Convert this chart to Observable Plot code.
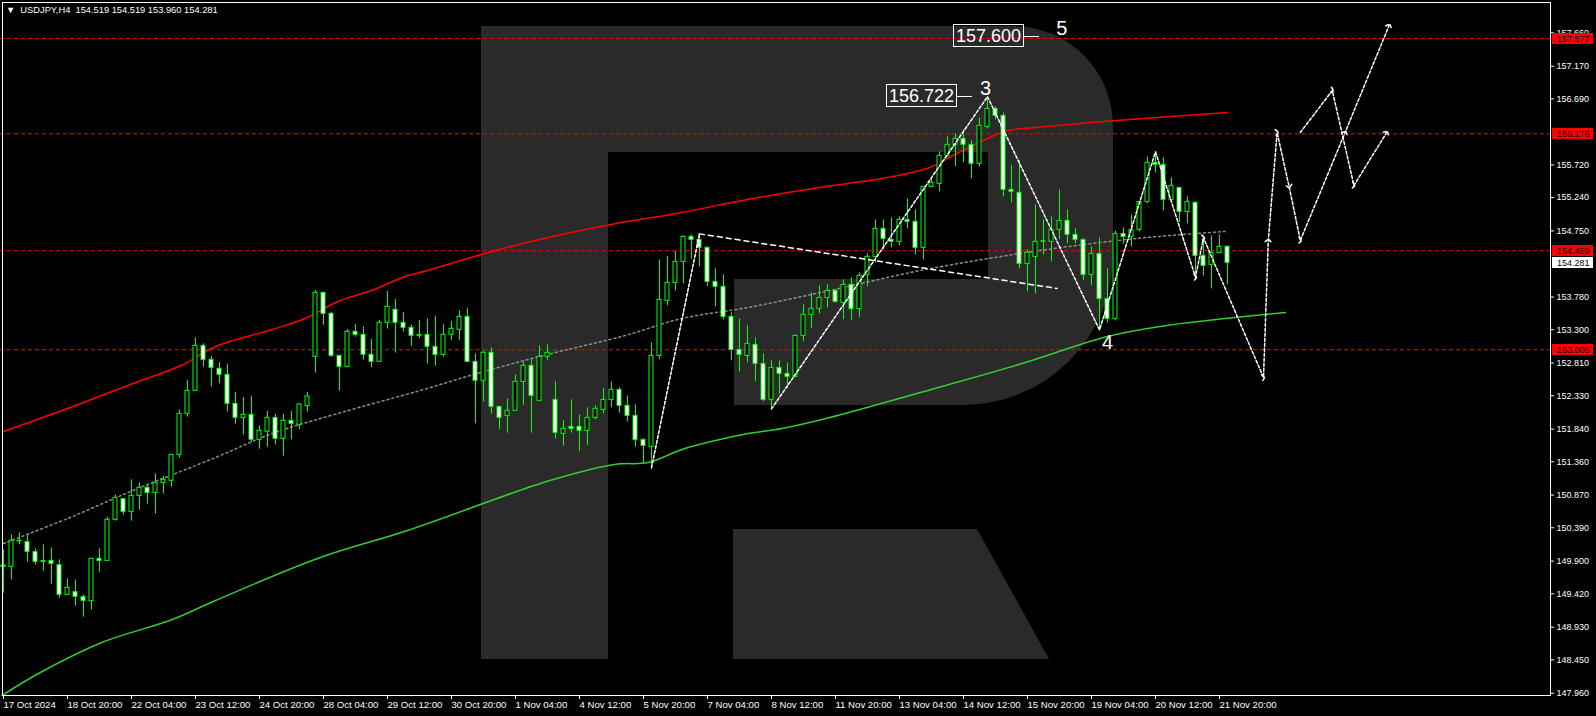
<!DOCTYPE html>
<html><head><meta charset="utf-8">
<script src="https://cdn.jsdelivr.net/npm/d3@7"></script>
<script src="https://cdn.jsdelivr.net/npm/@observablehq/plot@0.6"></script>
<style>
html,body{margin:0;padding:0;background:#000;}
#wrap{position:relative;width:1596px;height:716px;overflow:hidden;background:#000;}
#wrap > svg, #chart svg{position:absolute;left:0;top:0;}
#title{position:absolute;left:6px;top:5px;color:#fff;font:9.3px "Liberation Sans",sans-serif;white-space:pre;}
</style></head><body>
<div id="wrap">
<svg id="logo" width="1596" height="716"><path fill="#2a2a2a" d="M481,26 H1013 A100,100 0 0 1 1113,126 V255 A150,150 0 0 1 963,405 H734 V279 H988 V152 H608 V659 H481 Z M733,529 H977 L1049,659 H733 Z"/></svg>
<div id="chart"></div>
<div id="title">▼  USDJPY,H4  154.519 154.519 153.960 154.281</div>
</div>
<script>
// ---- candle data (H4 bars, index 0 = 17 Oct 12:00) ----
const open = [149.836,149.816,150.190,150.179,150.032,149.900,149.904,149.841,149.405,149.444,149.371,149.312,149.934,149.904,150.507,150.810,150.624,150.859,150.977,150.903,151.050,151.080,151.461,152.064,152.401,153.062,152.857,152.725,152.637,152.211,152.005,152.049,151.682,151.800,152.005,151.697,151.961,151.903,152.177,152.901,153.841,153.533,152.916,152.754,153.269,153.225,152.931,152.828,153.401,153.592,153.401,153.327,153.220,153.224,153.048,152.930,153.224,153.297,153.488,152.827,152.548,152.960,152.166,152.034,152.108,152.534,152.769,152.255,152.901,152.269,151.770,151.873,151.873,151.814,152.005,152.122,152.269,152.416,152.181,152.034,151.681,151.579,152.915,153.723,153.988,154.296,154.663,154.619,154.502,154.002,153.929,153.488,153.003,152.915,153.077,152.798,152.269,152.739,152.651,152.607,153.209,153.518,153.606,153.767,153.871,153.694,153.959,153.601,154.106,154.370,154.781,154.620,154.590,154.913,154.884,154.502,155.398,155.442,155.853,156.015,156.103,156.015,155.736,156.279,156.544,156.441,155.354,155.310,154.267,154.369,154.590,154.590,154.766,154.898,154.693,154.619,154.105,154.413,153.752,153.459,154.707,154.663,154.766,155.177,155.750,155.721,155.207,155.383,155.030,155.163,154.384,154.252,154.428,154.519];
const high = [150.066,150.286,150.316,150.277,150.081,150.139,150.095,149.919,149.640,149.625,149.405,149.940,150.081,150.546,150.874,150.815,151.094,151.050,151.021,151.182,151.143,151.465,152.122,152.553,153.180,153.092,152.906,152.818,152.789,152.377,152.304,152.319,151.888,152.098,152.054,152.054,152.098,152.216,152.377,153.876,153.845,153.557,152.920,153.303,153.376,153.342,153.156,153.435,153.861,153.743,153.553,153.371,153.435,153.459,153.493,153.376,153.420,153.577,153.611,152.945,152.984,153.033,152.170,152.284,152.636,152.827,152.857,153.062,153.077,152.534,151.961,152.269,152.049,152.152,152.181,152.436,152.534,152.446,152.328,152.196,151.696,153.106,154.325,154.374,154.448,154.678,154.693,154.707,154.516,154.193,154.105,153.547,153.459,153.356,153.180,152.945,152.842,152.842,152.812,153.224,153.664,153.841,153.943,153.958,153.885,154.032,154.061,154.135,154.414,154.913,154.913,154.943,154.957,155.222,155.060,155.398,155.516,155.912,156.133,156.177,156.235,156.074,156.412,156.722,156.573,156.485,155.707,155.780,154.473,155.133,154.913,154.957,155.353,155.060,154.781,154.634,154.516,154.648,154.193,154.751,154.795,154.986,155.177,155.838,155.912,155.824,155.530,155.383,155.251,155.177,154.648,154.678,154.692,154.519];
const low = [149.430,149.625,150.139,149.885,149.846,149.753,149.562,149.356,149.400,149.239,149.077,149.180,149.738,149.900,150.487,150.575,150.487,150.649,150.737,150.590,150.889,150.986,151.412,152.015,152.400,152.749,152.455,152.505,152.089,151.912,151.751,151.643,151.545,151.574,151.604,151.442,151.682,151.829,152.089,152.661,153.366,152.896,152.397,152.740,153.190,152.852,152.740,152.825,153.308,152.955,153.264,153.058,153.170,152.798,152.764,152.896,153.141,153.141,152.813,151.917,152.235,152.059,151.829,151.780,152.105,152.191,151.780,152.240,152.842,151.692,151.589,151.780,151.515,151.603,151.976,152.064,152.152,152.073,151.946,151.574,151.329,151.270,152.857,153.650,153.870,153.973,154.335,154.223,153.929,153.635,153.444,152.842,152.680,152.812,152.533,152.240,152.137,152.357,152.431,152.600,153.121,153.312,153.532,153.620,153.689,153.449,153.440,153.474,153.929,154.282,154.473,154.502,154.532,154.781,154.399,154.326,155.383,155.325,155.824,155.692,155.751,155.516,155.692,156.250,156.382,155.251,155.163,154.194,153.856,153.821,154.399,154.296,154.619,154.560,154.560,154.017,153.943,153.297,153.400,153.429,154.560,154.516,154.737,155.148,155.603,155.045,155.192,154.869,154.854,154.071,154.090,153.899,154.413,153.960];
const close = [149.816,150.198,150.200,150.037,149.890,149.890,149.860,149.405,149.508,149.376,149.317,149.934,149.904,150.507,150.830,150.624,150.859,150.977,150.903,151.050,151.094,151.461,152.064,152.401,153.062,152.857,152.739,152.637,152.211,152.005,152.049,151.682,151.814,152.005,151.697,151.961,151.917,152.201,152.319,153.841,153.533,152.916,152.754,153.269,153.225,152.931,152.828,153.401,153.636,153.401,153.327,153.210,153.210,153.048,152.930,153.224,153.312,153.488,152.827,152.548,152.960,152.166,152.005,152.108,152.534,152.769,152.328,152.901,152.960,151.785,151.843,151.843,151.814,152.005,152.137,152.269,152.416,152.181,152.034,151.677,151.593,152.915,153.738,153.988,154.296,154.663,154.619,154.502,154.002,153.929,153.488,153.003,152.930,153.092,152.798,152.269,152.739,152.651,152.607,153.209,153.518,153.606,153.767,153.870,153.709,153.959,153.601,154.091,154.370,154.781,154.634,154.590,154.913,154.884,154.502,155.398,155.457,155.853,156.015,156.103,156.015,155.736,156.294,156.544,156.441,155.354,155.325,154.267,154.429,154.590,154.600,154.766,154.898,154.693,154.619,154.105,154.413,153.752,153.459,154.707,154.663,154.766,155.177,155.750,155.721,155.207,155.412,155.030,155.177,154.384,154.237,154.428,154.516,154.281];

// ---- moving averages (bar index, price) ----
const redMaBars   = [0, 8, 16.2, 22.5, 26.5, 33.6, 37.7, 41.8, 46, 50.2, 53, 59.3, 67, 76, 84.8, 93, 102, 110.5, 115.8, 118.7, 123, 125.5, 129, 140, 153];
const redMaValues = [151.804, 152.142, 152.509, 152.788, 153.053, 153.303, 153.464, 153.714, 153.875, 154.081, 154.169, 154.389, 154.625, 154.845, 155.021, 155.212, 155.388, 155.535, 155.682, 155.858, 156.108, 156.225, 156.270, 156.380, 156.490];
const greenMaBars   = [-0.2, 4.6, 12.3, 21.1, 26.5, 39.6, 50.5, 68.3, 76.4, 80.6, 84.8, 89, 93.1, 97.3, 103.3, 114.6, 126.9, 138, 144.6, 160.25];
const greenMaValues = [147.926, 148.264, 148.705, 149.043, 149.322, 149.953, 150.350, 151.084, 151.320, 151.349, 151.540, 151.672, 151.775, 151.848, 152.010, 152.377, 152.788, 153.200, 153.347, 153.552];
const grayMaBars   = [0, 8, 16.2, 26.5, 33.6, 41.8, 52.1, 59.2, 67.5, 77.7, 84.8, 93.1, 103.3, 114.6, 127.1, 136.1, 144.3, 152.7];
const grayMaValues = [150.159, 150.526, 150.938, 151.422, 151.775, 152.069, 152.407, 152.656, 152.921, 153.214, 153.464, 153.626, 153.875, 154.169, 154.419, 154.566, 154.669, 154.742];

// ---- levels ----
const levelPrices = [157.577, 156.176, 154.459, 153.005];
const currentPrice = 154.281;
const priceTicks = [147.960, 148.450, 148.930, 149.420, 149.900, 150.390, 150.870, 151.360, 151.840, 152.330, 152.810, 153.300, 153.780, 154.750, 155.240, 155.720, 156.690, 157.170, 157.660];

// ---- time axis ----
const dateTickBars = [0, 8, 16, 24, 32, 40, 48, 56, 64, 72, 80, 88, 96, 104, 112, 120, 128, 136, 144, 152];
const dateTickLabels = ["17 Oct 2024","18 Oct 20:00","22 Oct 04:00","23 Oct 12:00","24 Oct 20:00","28 Oct 04:00","29 Oct 12:00","30 Oct 20:00","1 Nov 04:00","4 Nov 12:00","5 Nov 20:00","7 Nov 04:00","8 Nov 12:00","11 Nov 20:00","13 Nov 04:00","14 Nov 12:00","15 Nov 20:00","19 Nov 04:00","20 Nov 12:00","21 Nov 20:00"];

// ---- wave markup (bar index, price) ----
const waveABars = [81, 87];            const waveAPrices = [151.270, 154.707];
const trendBars = [87, 131.7];         const trendPrices = [154.707, 153.905];
const waveBBars = [96, 123, 137, 144]; const waveBPrices = [152.137, 156.722, 153.297, 155.912];
const forecastBars   = [144, 149, 150, 157.5, 158.1, 159.2, 160.7, 162.1, 167.7, 173.2];
const forecastPrices = [155.912, 154.071, 154.648, 152.597, 154.610, 156.196, 155.403, 154.610, 156.196, 157.768];
const altBars   = [162.1, 166.1, 168.8, 172.9];
const altPrices = [156.196, 156.813, 155.418, 156.196];

// ---- labels ----
const boxLabels = [{bar: 127.6, price: 157.600, text: "157.600"}, {bar: 119.25, price: 156.722, text: "156.722"}];
const waveLabels = [{bar: 132.3, price: 157.72, text: "5"}, {bar: 122.75, price: 156.84, text: "3"}, {bar: 138, price: 153.11, text: "4"}];

const candles = open.map((o, i) => ({i, o, h: high[i], l: low[i], c: close[i]}));
const bull = candles.filter(d => d.c >= d.o);
const bear = candles.filter(d => d.c < d.o);
const series = (bars, vals) => bars.map((b, k) => ({b, v: vals[k]}));

const green = "#00ff00";
const labelMap = new Map(dateTickBars.map((b, k) => [b, dateTickLabels[k]]));

function tagMark(index, scales, values, dims) {
  const g = d3.create("svg:g").attr("font-family", "Liberation Sans, sans-serif").attr("font-size", 9).attr("text-anchor", "start");
  const x0 = dims.width - dims.marginRight;
  const items = levelPrices.map(v => ({v, bg: "#ff0000"})).concat([{v: currentPrice, bg: "#ffffff"}]);
  for (const t of items) {
    const y = Math.round(scales.y(t.v));
    g.append("rect").attr("x", x0 + 2).attr("y", y - 5).attr("width", 41).attr("height", 11).attr("fill", t.bg);
    g.append("text").attr("x", x0 + 7).attr("y", y + 0.5).attr("dy", "0.35em").attr("fill", "#000").text(t.v.toFixed(3));
  }
  return g.node();
}
function boxMark(index, scales, values, dims) {
  const g = d3.create("svg:g").attr("font-family", "Liberation Sans, sans-serif").attr("font-size", 18);
  for (const b of boxLabels) {
    const x = Math.round(scales.x(b.bar)), y = Math.round(scales.y(b.price));
    g.append("rect").attr("x", x - 70.5).attr("y", y - 11.5).attr("width", 70).attr("height", 22).attr("fill", "none").attr("stroke", "#fff");
    g.append("text").attr("x", x - 35.5).attr("y", y).attr("dy", "0.36em").attr("text-anchor", "middle").attr("fill", "#fff").text(b.text);
    g.append("line").attr("x1", x - 0.5).attr("x2", x + 15).attr("y1", y + 0.5).attr("y2", y + 0.5).attr("stroke", "#fff");
  }
  return g.node();
}

const chart = Plot.plot({
  width: 1596, height: 716,
  marginLeft: 0, marginTop: 0, marginRight: 46, marginBottom: 21,
  style: {background: "transparent", color: "#fff", fontFamily: "Liberation Sans, sans-serif", fontSize: "9px"},
  x: {type: "linear", domain: [-0.375, 193.375], axis: null},
  y: {type: "linear", domain: [147.9264, 158.135], axis: null},
  marks: [
    Plot.ruleY(levelPrices, {stroke: "#ff0000", strokeDasharray: "4,3", strokeWidth: 1}),
    Plot.line(series(grayMaBars, grayMaValues), {x: "b", y: "v", stroke: "#8c8c8c", strokeDasharray: "2,3", curve: "catmull-rom"}),
    Plot.line(series(redMaBars, redMaValues), {x: "b", y: "v", stroke: "#ff0000", curve: "catmull-rom"}),
    Plot.line(series(greenMaBars, greenMaValues), {x: "b", y: "v", stroke: "#32cd32", curve: "catmull-rom"}),
    Plot.ruleX(candles, {x: "i", y1: "l", y2: "h", stroke: green}),
    Plot.rect(bull, {x1: d => d.i - 0.25, x2: d => d.i + 0.25, y1: "o", y2: "c", fill: "#000", stroke: green}),
    Plot.rect(bear, {x1: d => d.i - 0.25, x2: d => d.i + 0.25, y1: "c", y2: "o", fill: "#fff", stroke: green}),
    Plot.line(series(waveABars, waveAPrices), {x: "b", y: "v", stroke: "#fff", strokeDasharray: "3,2"}),
    Plot.line(series(trendBars, trendPrices), {x: "b", y: "v", stroke: "#fff", strokeDasharray: "5,4"}),
    Plot.line(series(waveBBars, waveBPrices), {x: "b", y: "v", stroke: "#fff", strokeDasharray: "3,2"}),
    Plot.line(series(forecastBars, forecastPrices), {x: "b", y: "v", stroke: "#fff", strokeDasharray: "3,2", markerMid: "arrow", markerEnd: "arrow"}),
    Plot.line(series(altBars, altPrices), {x: "b", y: "v", stroke: "#fff", strokeDasharray: "3,2", markerMid: "arrow", markerEnd: "arrow"}),
    boxMark,
    Plot.text(waveLabels, {x: "bar", y: "price", text: "text", fill: "#fff", fontSize: 20}),
    Plot.frame({stroke: "#fff", insetLeft: 2, insetTop: 2}),
    Plot.axisY(priceTicks, {anchor: "right", tickSize: 3, tickPadding: 3, tickFormat: d => d.toFixed(3), stroke: "#fff", fill: "#fff", label: null}),
    Plot.axisX(dateTickBars, {anchor: "bottom", tickSize: 4, tickPadding: 2, tickFormat: d => labelMap.get(d), textAnchor: "start", fontSize: 9.6, stroke: "#fff", fill: "#fff", label: null}),
    tagMark
  ]
});
document.getElementById("chart").appendChild(chart);
</script>
</body></html>
